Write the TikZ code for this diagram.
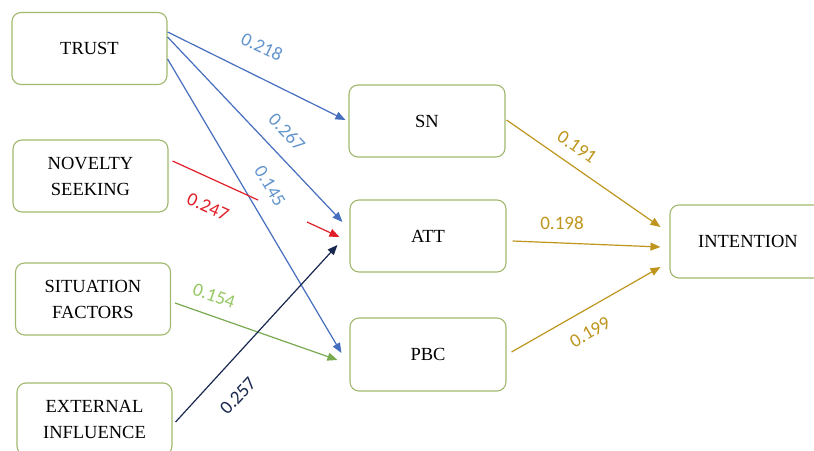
\documentclass[tikz,border=0pt]{standalone}
\usepackage{fontspec}
\setmainfont{Liberation Serif}
\newfontfamily\lblfont{Carlito}
\usetikzlibrary{arrows.meta,calc}
\definecolor{boxline}{RGB}{160,185,110}
\definecolor{arrblue}{RGB}{70,110,190}
\definecolor{lblblue}{RGB}{100,150,205}
\definecolor{arrred}{RGB}{225,30,40}
\definecolor{arrgreen}{RGB}{120,170,80}
\definecolor{lblgreen}{RGB}{150,200,100}
\definecolor{arrnavy}{RGB}{25,40,80}
\definecolor{arrgold}{RGB}{190,150,30}
\begin{document}
\begin{tikzpicture}[x=1pt,y=-1pt,
  box/.style={draw=boxline, line width=1.1pt, rounded corners=9pt, fill=white,
    minimum width=155pt, minimum height=72pt, align=center, inner sep=0pt,
    font=\fontsize{18.5}{26}\selectfont},
  conn/.style={line width=1.2pt, -{Triangle[length=10pt,width=8pt]}},
  lbl/.style={font=\lblfont\fontsize{19}{22}\selectfont, inner sep=0pt}]
\useasboundingbox (0,0) rectangle (814,450);
\fill[white] (0,0) rectangle (814,450);
% boxes
\node[box] (trust) at (89.5,48.5) {TRUST};
\node[box] (novelty) at (90.5,176) {NOVELTY\\SEEKING};
\node[box] (situation) at (93,299) {SITUATION\\FACTORS};
\node[box] (external) at (94.5,419) {EXTERNAL\\INFLUENCE};
\node[box, minimum width=156pt] (sn) at (427,121) {SN};
\node[box, minimum width=156pt] (att) at (428,236) {ATT};
\node[box, minimum width=156pt, minimum height=73pt] (pbc) at (428,354.5) {PBC};
\node[box, minimum width=156pt, minimum height=73pt] (intention) at (748,241.5) {INTENTION};
% connectors
\draw[conn, arrblue] ($(trust.north east)+(0,20)$) -- ($(sn.west)+(-3,-1)$);
\draw[conn, arrblue] ($(trust.north east)+(0,25)$) -- ($(att.west)+(-7,-14)$);
\draw[conn, arrblue] ($(trust.north east)+(0,47)$) -- ($(pbc.west)+(-8,-1.5)$);
\coordinate (nbreak1) at (258,200);
\coordinate (nbreak2) at (307,222);
\draw[arrred, line width=1.2pt] ($(novelty.east)+(4,-15)$) -- (nbreak1);
\draw[conn, arrred] (nbreak2) -- ($(att.west)+(-10,1)$);
\draw[conn, arrgreen] ($(situation.east)+(4,4)$) -- ($(pbc.west)+(-12,5.5)$);
\draw[conn, arrnavy] ($(external.east)+(3,3)$) -- ($(att.west)+(-12,9)$);
\draw[conn, arrgold] ($(sn.east)+(1,-1)$) -- ($(intention.west)+(-9,-14.5)$);
\draw[conn, arrgold] ($(att.east)+(6,5)$) -- ($(intention.west)+(-9,5.5)$);
\draw[conn, arrgold] ($(pbc.east)+(5,-2.5)$) -- ($(intention.west)+(-9,25.5)$);
% labels
\node[lbl, text=lblblue, rotate=-25.7] (l218) at (262,47) {0.218};
\node[lbl, text=lblblue, rotate=-46] (l267) at (287,132) {0.267};
\node[lbl, text=lblblue, rotate=-59] (l145) at (270,186) {0.145};
\node[lbl, text=arrred, rotate=-24] (l247) at (208,207) {0.247};
\node[lbl, text=lblgreen, rotate=-19] (l154) at (214,296) {0.154};
\node[lbl, text=arrnavy, rotate=47] (l257) at (238,396) {0.257};
\node[lbl, text=arrgold, rotate=-35] (l191) at (577,147) {0.191};
\node[lbl, text=arrgold] (l198) at (562,223) {0.198};
\node[lbl, text=arrgold, rotate=30] (l199) at (590,332) {0.199};
\end{tikzpicture}
\end{document}
